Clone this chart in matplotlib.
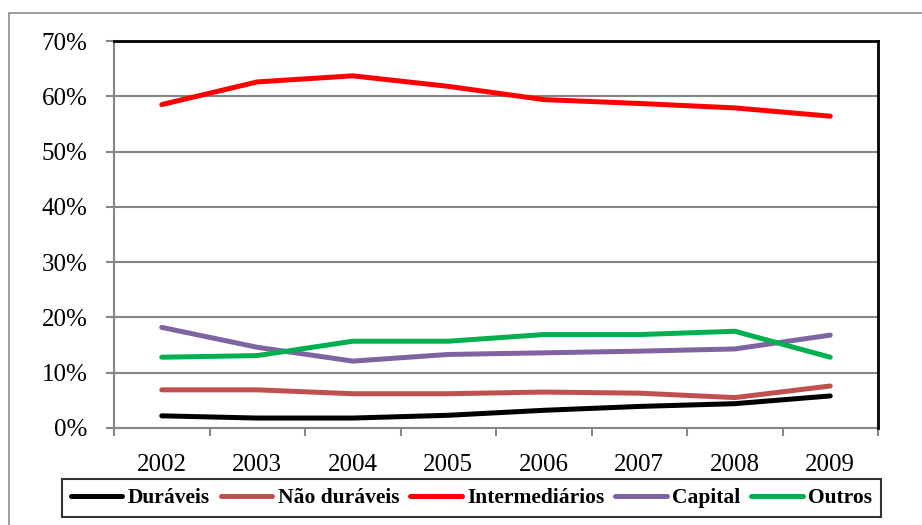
import matplotlib
matplotlib.use("Agg")
import matplotlib.pyplot as plt
from matplotlib.patches import Rectangle
from matplotlib.ticker import FixedLocator, PercentFormatter

years = ["2002", "2003", "2004", "2005", "2006", "2007", "2008", "2009"]
duraveis = [2.2, 1.8, 1.8, 2.3, 3.2, 3.9, 4.4, 5.8]
nao_duraveis = [6.9, 6.9, 6.2, 6.2, 6.5, 6.3, 5.5, 7.6]
intermediarios = [58.5, 62.6, 63.7, 61.8, 59.4, 58.7, 57.9, 56.4]
capital = [18.2, 14.6, 12.1, 13.3, 13.6, 13.9, 14.3, 16.8]
outros = [12.8, 13.1, 15.7, 15.7, 16.9, 16.9, 17.5, 12.8]

series = [
    ("Duráveis", duraveis, "#000000"),
    ("Não duráveis", nao_duraveis, "#C0504D"),
    ("Intermediários", intermediarios, "#FF0000"),
    ("Capital", capital, "#8064A2"),
    ("Outros", outros, "#00B050"),
]

plt.rcParams["font.family"] = ["Liberation Serif", "DejaVu Serif"]

W, H = 922, 525
fig = plt.figure(figsize=(W / 100, H / 100), dpi=100)
ax = fig.add_axes([114 / W, 1 - 428 / H, (878 - 114) / W, (428 - 41) / H])

x = list(range(len(years)))
handles = []
for name, vals, color in series:
    (ln,) = ax.plot(x, vals, color=color, lw=3.6, solid_capstyle="round",
                    solid_joinstyle="round", label=name, zorder=3)
    handles.append(ln)

grey = "#868686"
ax.set_xlim(-0.5, len(years) - 0.5)
ax.set_ylim(0, 70)
ax.yaxis.set_major_locator(FixedLocator(range(0, 71, 10)))
ax.yaxis.set_major_formatter(PercentFormatter(decimals=0))
ax.grid(axis="y", color=grey, lw=1.5, zorder=1)

ax.xaxis.set_major_locator(FixedLocator([i - 0.5 for i in range(len(years) + 1)]))
ax.xaxis.set_major_formatter(plt.NullFormatter())
ax.xaxis.set_minor_locator(FixedLocator(x))
ax.set_xticklabels(years, minor=True)
ax.tick_params(axis="x", which="major", length=6, width=1.5, color=grey, direction="out")
ax.tick_params(axis="x", which="minor", length=0, labelsize=18, pad=19)
ax.tick_params(axis="y", length=6, width=1.5, color=grey, direction="out",
               labelsize=18, pad=13)

for side in ("left", "bottom"):
    ax.spines[side].set_color(grey)
    ax.spines[side].set_linewidth(1.5)
for side in ("top", "right"):
    ax.spines[side].set_color("black")
    ax.spines[side].set_linewidth(2)
ax.spines["bottom"].set_zorder(2)

leg = fig.legend(handles=handles, loc="center", ncol=5,
                 bbox_to_anchor=((55 + 888) / 2 / W, 1 - 498 / H),
                 prop={"weight": "bold", "size": 15.5},
                 frameon=True, fancybox=False, edgecolor="black",
                 handlelength=2.4, handletextpad=0.25, columnspacing=0.5,
                 borderpad=0.4, borderaxespad=0)
leg.get_frame().set_linewidth(1.5)

# outer chart-area frame
fig.patches.append(Rectangle((8.5 / W, -0.05), 1.1, 1 - 12.5 / H + 0.05,
                             transform=fig.transFigure, fill=False,
                             edgecolor="#8C8C8C", lw=1.2))

fig.savefig("out.png", dpi=100)
